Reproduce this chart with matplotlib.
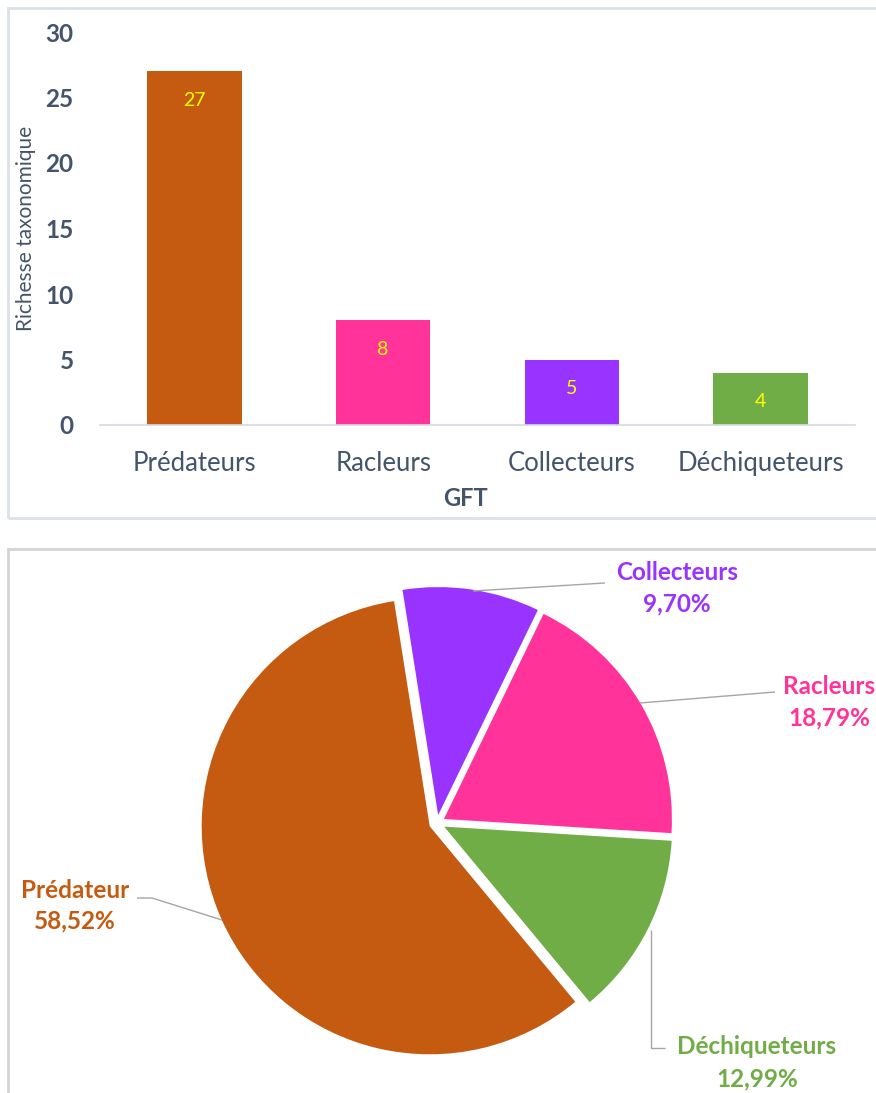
import matplotlib.pyplot as plt
from matplotlib.patches import Rectangle

plt.rcParams['font.family'] = ['Lato', 'DejaVu Sans']

# bar chart data
groups = ["Prédateurs", "Racleurs", "Collecteurs", "Déchiqueteurs"]
richness = [27, 8, 5, 4]
bar_colors = ["#C55A11", "#FF3399", "#9933FF", "#70AD47"]

# pie chart data (order as drawn, clockwise from top)
pie_labels = ["Collecteurs", "Racleurs", "Déchiqueteurs", "Prédateur"]
pie_values = [9.70, 18.79, 12.99, 58.52]
pie_colors = ["#9933FF", "#FF3399", "#70AD47", "#C55A11"]

W, H = 876, 1093
txt = "#44546A"

fig = plt.figure(figsize=(W / 100, H / 100), dpi=100)

# ---- top: bar chart ----
ax1 = fig.add_axes([100 / W, (H - 425) / H, 755 / W, 393 / H])
xs = list(range(len(groups)))
ax1.bar(xs, richness, width=0.5, color=bar_colors)
for xi, v in zip(xs, richness):
    ax1.annotate(str(v), (xi, v), xytext=(0, -21), textcoords="offset points",
                 ha="center", va="center", color="#FFFF00", fontsize=14)
ax1.set_xlim(-0.5, 3.5)
ax1.set_ylim(0, 30)
ax1.set_yticks(range(0, 31, 5))
ax1.set_xticks(xs)
ax1.set_xticklabels(groups, fontsize=18.5, color=txt)
for lab in ax1.get_yticklabels():
    lab.set_fontsize(17.5)
    lab.set_fontweight("bold")
    lab.set_color(txt)
ax1.tick_params(axis="y", length=0, pad=19)
ax1.tick_params(axis="x", length=0, pad=19)
for s in ["top", "right", "left"]:
    ax1.spines[s].set_visible(False)
ax1.spines["bottom"].set_color("#D6DCE4")
ax1.spines["bottom"].set_linewidth(1.2)
ax1.set_ylabel("Richesse taxonomique", fontsize=15, color=txt)
ax1.yaxis.set_label_coords((36 - 100) / 755, 0.5)
ax1.set_xlabel("GFT", fontsize=17, fontweight="bold", color=txt)
ax1.xaxis.set_label_coords((465 - 100) / 755, (425 - 487) / 393)

# ---- bottom: pie chart, in pixel coordinates ----
ax2 = fig.add_axes([0, 0, 1, 1], zorder=-1)
# explode is an absolute offset here (pixel units)
ax2.pie(pie_values, colors=pie_colors, startangle=99, counterclock=False,
        explode=[8] * 4, radius=228, center=(437, H - 823),
        wedgeprops=dict(linewidth=0))
ax2.set_xlim(0, W)
ax2.set_ylim(0, H)
ax2.set_aspect("auto")
ax2.axis("off")

# panel borders
ax2.add_patch(Rectangle((8, H - 518), 900, 510, fill=False,
                        edgecolor="#DCE1E9", lw=2, clip_on=False))
ax2.add_patch(Rectangle((8, -20), 900, H - 549 + 20, fill=False,
                        edgecolor="#D4D4D4", lw=2, clip_on=False))

# leader lines (pixel coords, y from top)
leaders = [
    [(473, 591), (605, 583)],
    [(640, 703), (775, 692)],
    [(651, 930), (651, 1048), (665, 1048)],
    [(222, 920), (152, 898), (137, 898)],
]
for pts in leaders:
    ax2.plot([p[0] for p in pts], [H - p[1] for p in pts],
             color="#A6A6A6", lw=1, solid_capstyle="butt")

# label positions: (x centre, y of name line, y of percent line)
label_pos = [(677, 573, 604), (829, 686, 718), (757, 1047, 1079), (75, 890, 921)]
for name, val, col, (lx, ly1, ly2) in zip(pie_labels, pie_values, pie_colors, label_pos):
    pct = f"{val:.2f}%".replace(".", ",")
    ax2.text(lx, H - ly1, name, ha="center", va="center", color=col,
             fontsize=17.5, fontweight="bold")
    ax2.text(lx, H - ly2, pct, ha="center", va="center", color=col,
             fontsize=17.5, fontweight="bold")

fig.savefig("out.png", dpi=100)
